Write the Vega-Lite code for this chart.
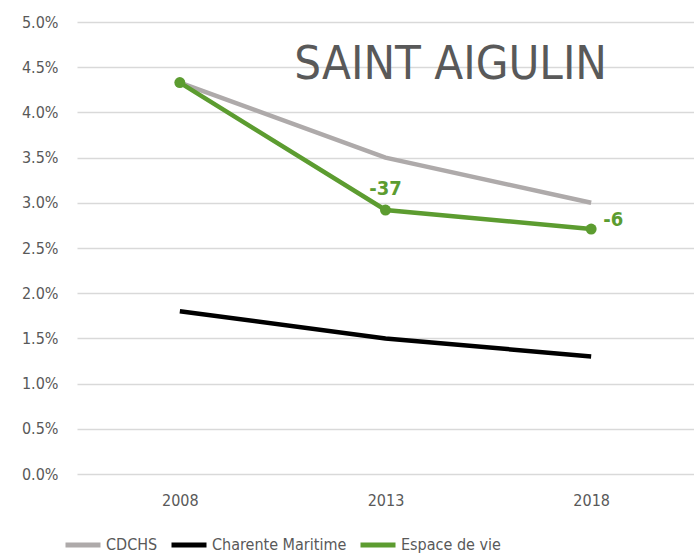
{
  "$schema": "https://vega.github.io/schema/vega-lite/v6.json",
  "width": 617,
  "height": 452,
  "autosize": "none",
  "padding": {"left": 77, "top": 22, "right": 0, "bottom": 80},
  "background": "white",
  "title": {
    "text": "SAINT AIGULIN",
    "anchor": "end",
    "orient": "top",
    "frame": "group",
    "font": "DejaVu Sans Condensed",
    "fontSize": 47,
    "fontWeight": "normal",
    "color": "#595959",
    "baseline": "top",
    "dx": -87,
    "dy": 79
  },
  "config": {
    "view": {"stroke": null},
    "font": "DejaVu Sans Condensed"
  },
  "data": {
    "values": [
      {"annee": "2008", "serie": "CDCHS", "taux": 4.33, "label": ""},
      {"annee": "2013", "serie": "CDCHS", "taux": 3.5, "label": ""},
      {"annee": "2018", "serie": "CDCHS", "taux": 3.0, "label": ""},
      {"annee": "2008", "serie": "Charente Maritime", "taux": 1.8, "label": ""},
      {"annee": "2013", "serie": "Charente Maritime", "taux": 1.5, "label": ""},
      {"annee": "2018", "serie": "Charente Maritime", "taux": 1.3, "label": ""},
      {"annee": "2008", "serie": "Espace de vie", "taux": 4.33, "label": ""},
      {"annee": "2013", "serie": "Espace de vie", "taux": 2.92, "label": "-37"},
      {"annee": "2018", "serie": "Espace de vie", "taux": 2.71, "label": "-6"}
    ]
  },
  "encoding": {
    "x": {
      "field": "annee", "type": "ordinal",
      "axis": {
        "title": null, "domain": false, "ticks": false, "labelAngle": 0,
        "labelFontSize": 16, "labelColor": "#595959", "labelPadding": 18
      }
    },
    "y": {
      "field": "taux", "type": "quantitative",
      "scale": {"domain": [0, 5]},
      "axis": {
        "title": null, "domain": false, "ticks": false,
        "values": [0, 0.5, 1, 1.5, 2, 2.5, 3, 3.5, 4, 4.5, 5],
        "labelExpr": "format(datum.value / 100, '.1%')",
        "labelFontSize": 16, "labelColor": "#595959", "labelPadding": 19,
        "gridColor": "#d9d9d9", "gridWidth": 1.5
      }
    },
    "color": {
      "field": "serie", "type": "nominal",
      "scale": {
        "domain": ["CDCHS", "Charente Maritime", "Espace de vie"],
        "range": ["#aeaaaa", "#000000", "#5c9c30"]
      },
      "legend": {
        "title": null, "orient": "none", "direction": "horizontal",
        "legendX": -14, "legendY": 503,
        "symbolType": "stroke", "symbolSize": 1225, "symbolStrokeWidth": 5,
        "labelFontSize": 16, "labelColor": "#595959", "labelOffset": 3,
        "columnPadding": 3
      }
    }
  },
  "layer": [
    {
      "mark": {"type": "line", "strokeWidth": 4.5},
      "encoding": {"order": {"field": "annee"}}
    },
    {
      "transform": [{"filter": "datum.serie == 'Espace de vie'"}],
      "mark": {"type": "point", "filled": true, "opacity": 1, "size": 120},
      "encoding": {}
    },
    {
      "transform": [{"filter": "datum.label == '-37'"}],
      "mark": {"type": "text", "dy": -21, "fontSize": 20, "fontWeight": "bold"},
      "encoding": {"text": {"field": "label"}, "color": {"value": "#5c9c30"}}
    },
    {
      "transform": [{"filter": "datum.label == '-6'"}],
      "mark": {"type": "text", "dx": 12, "dy": -9, "align": "left", "fontSize": 20, "fontWeight": "bold"},
      "encoding": {"text": {"field": "label"}, "color": {"value": "#5c9c30"}}
    }
  ]
}
